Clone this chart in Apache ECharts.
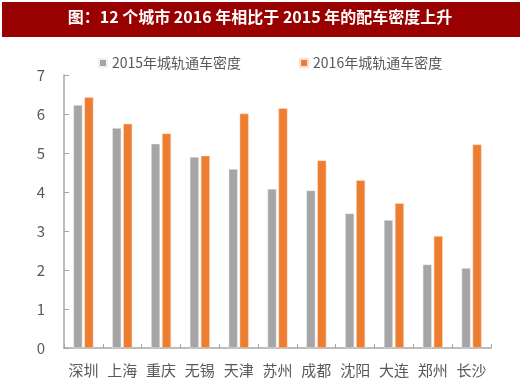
<!DOCTYPE html>
<html><head><meta charset="utf-8">
<script src="https://cdn.jsdelivr.net/npm/echarts@6/dist/echarts.min.js"></script>
<style>html,body{margin:0;padding:0;background:#fff}#c{width:520px;height:392px}</style>
</head><body><div id="c"></div>
<script>
var titleText = '图：12 个城市 2016 年相比于 2015 年的配车密度上升';
var categories = ['深圳','上海','重庆','无锡','天津','苏州','成都','沈阳','大连','郑州','长沙'];
var seriesNames = ['2015年城轨通车密度','2016年城轨通车密度'];
var density2015 = [6.23,5.64,5.24,4.90,4.59,4.08,4.04,3.45,3.28,2.14,2.05];
var density2016 = [6.43,5.75,5.50,4.93,6.01,6.15,4.81,4.30,3.71,2.87,5.22];
var yTicks = [0,1,2,3,4,5,6,7];

var chart = echarts.init(document.getElementById('c'), null, {renderer:'canvas'});
var font = "'Noto Sans CJK SC', 'Open Sans', sans-serif";
chart.setOption({
  animation:false,
  graphic:[
    {type:'rect', shape:{x:2,y:2,width:518,height:35}, style:{fill:'#990000'}, z:0},
    {type:'text', left:'center', top:9, style:{text:titleText, fill:'#fff', font:"bold 16px 'Noto Sans CJK SC', serif"}, z:1}
  ],
  legend:{
    left:93, top:51, itemWidth:8, itemHeight:8, itemGap:58,
    icon:'rect',
    textStyle:{color:'#595959', fontSize:14, fontFamily:font},
    data:seriesNames
  },
  grid:{left:64, right:29, top:75, bottom:44, containLabel:false},
  xAxis:{
    type:'category', data:categories,
    axisLine:{lineStyle:{color:'#A6A6A6', width:1.5}},
    axisTick:{show:true, inside:true, length:4, alignWithLabel:false, lineStyle:{color:'#A6A6A6'}},
    axisLabel:{color:'#595959', fontSize:15, fontFamily:font, margin:15, interval:0, hideOverlap:false}
  },
  yAxis:{
    type:'value', min:yTicks[0], max:yTicks[yTicks.length-1], interval:1,
    axisLine:{show:true, lineStyle:{color:'#A6A6A6', width:1.5}},
    axisTick:{show:true, inside:true, length:5, lineStyle:{color:'#A6A6A6'}},
    splitLine:{show:false},
    axisLabel:{color:'#595959', fontSize:15, fontFamily:font, margin:19}
  },
  series:[
    {name:seriesNames[0], type:'bar', data:density2015, barWidth:9, barGap:'22%',
     itemStyle:{color:'#A5A5A5', borderColor:'#f0f0f0', borderWidth:0.5}},
    {name:seriesNames[1], type:'bar', data:density2016, barWidth:9,
     itemStyle:{color:'#ED7D31', borderColor:'#fbe0cf', borderWidth:0.5}}
  ]
});
</script></body></html>
